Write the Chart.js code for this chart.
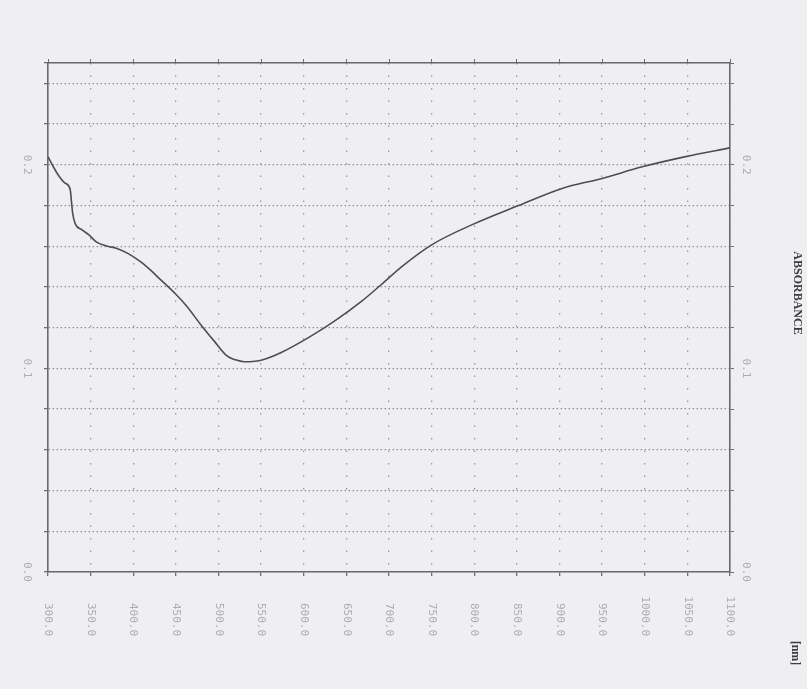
<!DOCTYPE html>
<html>
<head>
<meta charset="utf-8">
<script src="https://cdn.jsdelivr.net/npm/chart.js@4.4.1/dist/chart.umd.min.js"></script>
<style>
  html, body { margin: 0; padding: 0; background: #efeff1; }
  #wrap { width: 807px; height: 689px; position: relative; }
</style>
</head>
<body>
<div id="wrap"><canvas id="spectrum"></canvas></div>
<script>
// wavelength [nm] and absorbance
var wavelength = [300, 305, 312, 320, 326, 327.5, 329, 332, 340, 348, 357, 370, 380, 393, 408, 420, 432, 450, 463, 479, 495, 510, 520, 530, 540, 550, 573, 605, 636, 668, 691, 715, 750, 797, 852, 903, 950, 997, 1048, 1100];
var absorbance = [0.204, 0.200, 0.195, 0.191, 0.188, 0.182, 0.176, 0.171, 0.168, 0.1656, 0.162, 0.160, 0.159, 0.1566, 0.1526, 0.1484, 0.1436, 0.1364, 0.1304, 0.1216, 0.1134, 0.1061, 0.1042, 0.1033, 0.1034, 0.104, 0.1077, 0.115, 0.1232, 0.133, 0.1412, 0.150, 0.1607, 0.1705, 0.180, 0.1884, 0.1933, 0.199, 0.204, 0.2083];

var xTickValues = [300, 350, 400, 450, 500, 550, 600, 650, 700, 750, 800, 850, 900, 950, 1000, 1050, 1100];
var yTickValues = [0.0, 0.1, 0.2];
var yTitle = 'ABSORBANCE';
var xUnit = '[nm]';

var points = [];
for (var i = 0; i < wavelength.length; i++) {
    points.push({x: wavelength[i], y: absorbance[i]});
}

// rotated labels like the printout (text runs top to bottom)
var printLabels = {
    id: 'printLabels',
    afterDraw: function (chart) {
        var ctx = chart.ctx;
        var xs = chart.scales.x, ys = chart.scales.y;
        ctx.save();
        ctx.fillStyle = '#adadb1';
        ctx.font = '11px "DejaVu Sans Mono"';
        ctx.textBaseline = 'middle';
        xTickValues.forEach(function (v) {
            ctx.save();
            ctx.translate(xs.getPixelForValue(v), 636);
            ctx.rotate(Math.PI / 2);
            ctx.textAlign = 'right';
            ctx.fillText(v.toFixed(1), 0, 0);
            ctx.restore();
        });
        yTickValues.forEach(function (v) {
            var py = ys.getPixelForValue(v);
            [27, 746].forEach(function (px) {
                ctx.save();
                ctx.translate(px, py);
                ctx.rotate(Math.PI / 2);
                ctx.textAlign = 'center';
                ctx.fillText(v.toFixed(1), 0, 0);
                ctx.restore();
            });
        });
        ctx.fillStyle = '#3c3c3e';
        ctx.font = 'bold 12px "Liberation Serif"';
        ctx.textAlign = 'center';
        ctx.save();
        ctx.translate(797, 293);
        ctx.rotate(Math.PI / 2);
        ctx.fillText(yTitle, 0, 0);
        ctx.restore();
        ctx.save();
        ctx.translate(795, 653);
        ctx.rotate(Math.PI / 2);
        ctx.fillText(xUnit, 0, 0);
        ctx.restore();
        ctx.restore();
    }
};

var ctx = document.getElementById('spectrum');
var chart = new Chart(ctx, {
    type: 'line',
    data: {
        datasets: [{
            data: points,
            borderColor: '#4e4e50',
            borderWidth: 1.6,
            pointRadius: 0,
            fill: false,
            cubicInterpolationMode: 'monotone'
        }]
    },
    options: {
        responsive: true,
        maintainAspectRatio: false,
        animation: false,
        events: [],
        layout: { padding: { left: 44, right: 73, top: 59, bottom: 113 } },
        plugins: { legend: { display: false }, tooltip: { enabled: false } },
        scales: {
            x: {
                type: 'linear', position: 'bottom', min: 300, max: 1100,
                ticks: { display: false, stepSize: 50 },
                grid: { color: '#9a9a9e', lineWidth: 1.3, tickLength: 4, tickColor: '#707072', tickBorderDash: [] },
                border: { color: '#6a6a6c', width: 1.6, dash: [1.5, 11] }
            },
            x2: {
                type: 'linear', position: 'top', min: 300, max: 1100,
                ticks: { display: false, stepSize: 50 },
                grid: { drawOnChartArea: false, tickLength: 4, tickColor: '#707072' },
                border: { color: '#6a6a6c', width: 1.6 }
            },
            y: {
                type: 'linear', position: 'left', min: 0, max: 0.25,
                ticks: { display: false, stepSize: 0.02 },
                grid: { color: '#8e8e92', lineWidth: 1.3, tickLength: 4, tickColor: '#707072', tickBorderDash: [] },
                border: { color: '#6a6a6c', width: 1.6, dash: [1.5, 2.5] }
            },
            y2: {
                type: 'linear', position: 'right', min: 0, max: 0.25,
                ticks: { display: false, stepSize: 0.02 },
                grid: { drawOnChartArea: false, tickLength: 4, tickColor: '#707072' },
                border: { color: '#6a6a6c', width: 1.6 }
            }
        }
    },
    plugins: [printLabels]
});
</script>
</body>
</html>
